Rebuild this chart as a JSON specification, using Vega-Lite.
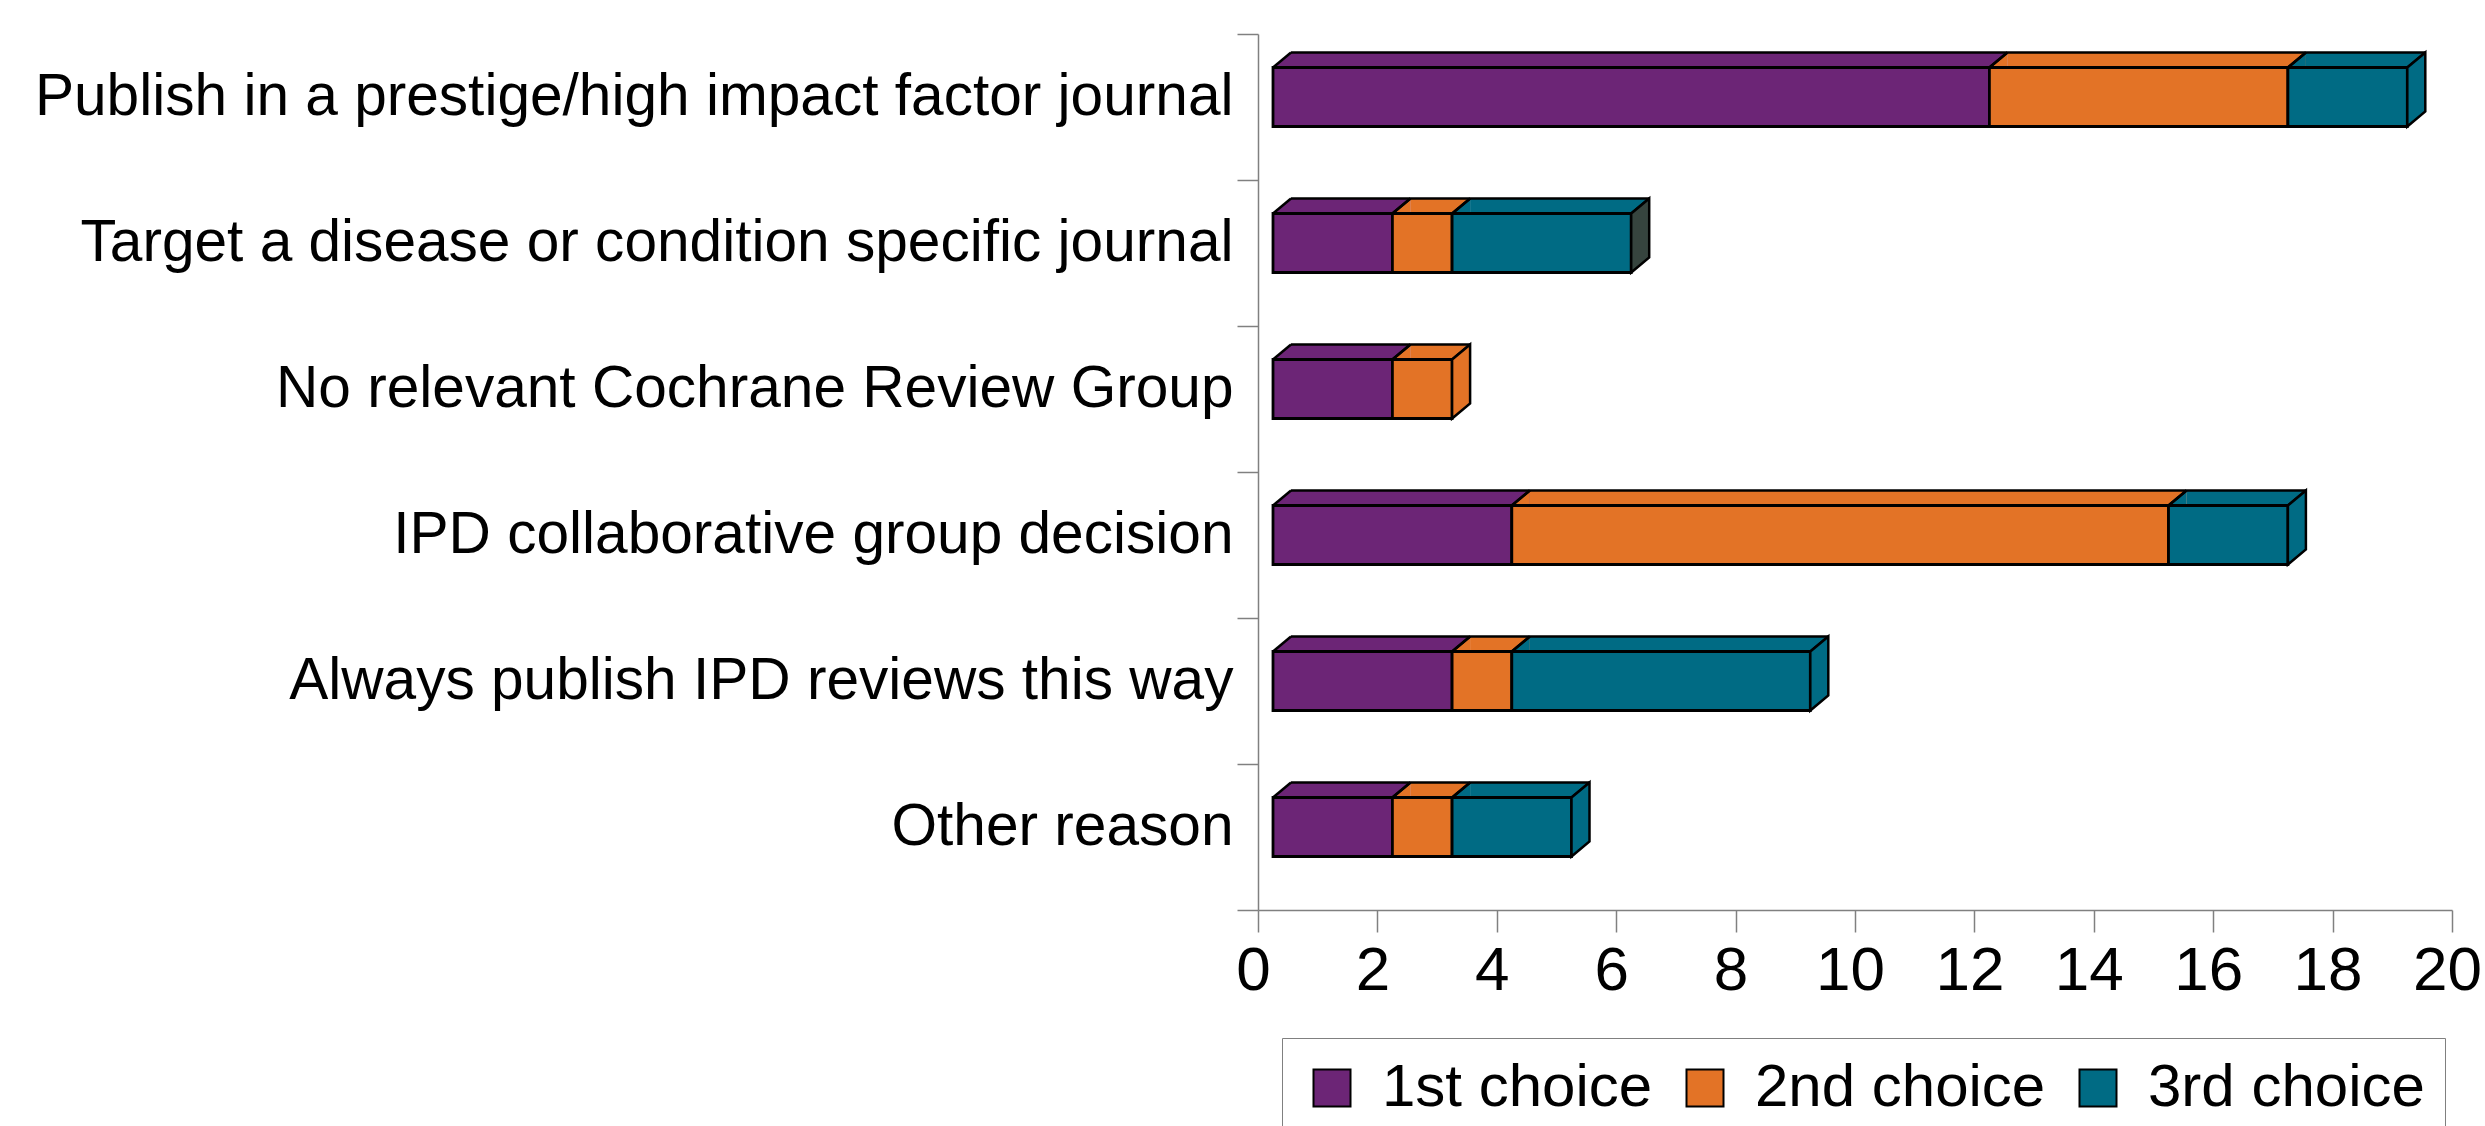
{
  "$schema": "https://vega.github.io/schema/vega-lite/v6.json",
  "width": 1194,
  "height": 876,
  "autosize": {"type": "none"},
  "padding": {"left": 1258, "top": 34, "right": 33, "bottom": 216},
  "background": "white",
  "config": {"view": {"stroke": null}, "font": "Liberation Sans"},
  "data": {
    "values": [
      {"reason": "Publish in a prestige/high impact factor journal", "choice": "1st choice", "order": 1, "count": 12},
      {"reason": "Publish in a prestige/high impact factor journal", "choice": "2nd choice", "order": 2, "count": 5},
      {"reason": "Publish in a prestige/high impact factor journal", "choice": "3rd choice", "order": 3, "count": 2},
      {"reason": "Target a disease or condition specific journal", "choice": "1st choice", "order": 1, "count": 2},
      {"reason": "Target a disease or condition specific journal", "choice": "2nd choice", "order": 2, "count": 1},
      {"reason": "Target a disease or condition specific journal", "choice": "3rd choice", "order": 3, "count": 3},
      {"reason": "No relevant Cochrane Review Group", "choice": "1st choice", "order": 1, "count": 2},
      {"reason": "No relevant Cochrane Review Group", "choice": "2nd choice", "order": 2, "count": 1},
      {"reason": "No relevant Cochrane Review Group", "choice": "3rd choice", "order": 3, "count": 0},
      {"reason": "IPD collaborative group decision", "choice": "1st choice", "order": 1, "count": 4},
      {"reason": "IPD collaborative group decision", "choice": "2nd choice", "order": 2, "count": 11},
      {"reason": "IPD collaborative group decision", "choice": "3rd choice", "order": 3, "count": 2},
      {"reason": "Always publish IPD reviews this way", "choice": "1st choice", "order": 1, "count": 3},
      {"reason": "Always publish IPD reviews this way", "choice": "2nd choice", "order": 2, "count": 1},
      {"reason": "Always publish IPD reviews this way", "choice": "3rd choice", "order": 3, "count": 5},
      {"reason": "Other reason", "choice": "1st choice", "order": 1, "count": 2},
      {"reason": "Other reason", "choice": "2nd choice", "order": 2, "count": 1},
      {"reason": "Other reason", "choice": "3rd choice", "order": 3, "count": 2}
    ]
  },
  "transform": [
    {"filter": "datum.count > 0"},
    {"stack": "count", "groupby": ["reason"], "sort": [{"field": "order", "order": "ascending"}], "as": ["x0", "x1"]},
    {"joinaggregate": [{"op": "max", "field": "x1", "as": "total"}], "groupby": ["reason"]}
  ],
  "encoding": {
    "y": {
      "field": "reason",
      "type": "nominal",
      "title": null,
      "sort": [
        "Publish in a prestige/high impact factor journal",
        "Target a disease or condition specific journal",
        "No relevant Cochrane Review Group",
        "IPD collaborative group decision",
        "Always publish IPD reviews this way",
        "Other reason"
      ],
      "scale": {"paddingInner": 0, "paddingOuter": 0},
      "axis": {
        "title": null,
        "tickBand": "extent",
        "domainColor": "#808080",
        "domainWidth": 1.5,
        "tickColor": "#808080",
        "tickWidth": 1.5,
        "tickSize": 21,
        "labelFont": "Liberation Sans",
        "labelFontSize": 58.6,
        "labelColor": "black",
        "labelPadding": 4,
        "labelLimit": 1300,
        "labelOffset": -11
      }
    }
  },
  "layer": [
    {
      "mark": {"type": "bar", "height": 15, "xOffset": 33, "x2Offset": 33, "yOffset": -47, "strokeWidth": 0},
      "encoding": {
        "x": {"field": "x0", "type": "quantitative", "title": null, "scale": {"domain": [0, 20], "nice": false}},
        "x2": {"field": "x1"},
        "color": {"field": "choice", "type": "nominal", "title": null}
      }
    },
    {
      "mark": {"type": "point", "shape": "M0,0L18,-15L18,0Z", "size": 4, "filled": true, "opacity": 1, "strokeWidth": 0, "xOffset": 15, "yOffset": -39.5},
      "encoding": {
        "x": {"field": "x0", "type": "quantitative", "title": null},
        "color": {"field": "choice", "type": "nominal", "title": null}
      }
    },
    {
      "transform": [{"filter": "datum.x0 == 0"}],
      "mark": {"type": "rule", "color": "black", "strokeWidth": 2.5, "xOffset": 33, "x2Offset": 33, "yOffset": -54.5},
      "encoding": {
        "x": {"field": "x0", "type": "quantitative", "title": null},
        "x2": {"field": "total"}
      }
    },
    {
      "mark": {"type": "point", "shape": "M0,0L18,-15", "size": 4, "filled": false, "opacity": 1, "color": "black", "strokeWidth": 2.5, "xOffset": 15, "yOffset": -39.5},
      "encoding": {
        "x": {"field": "x0", "type": "quantitative", "title": null}
      }
    },
    {
      "mark": {"type": "point", "shape": "M0,0L18,-15", "size": 4, "filled": false, "opacity": 1, "color": "black", "strokeWidth": 2.5, "xOffset": 15, "yOffset": -39.5},
      "encoding": {
        "x": {"field": "x1", "type": "quantitative", "title": null}
      }
    },
    {
      "mark": {"type": "bar", "height": 59, "xOffset": 15, "x2Offset": 15, "yOffset": -10, "stroke": "black", "strokeWidth": 2.8},
      "encoding": {
        "x": {
          "field": "x0",
          "type": "quantitative",
          "title": null,
          "scale": {"domain": [0, 20], "nice": false},
          "axis": {
            "title": null,
            "values": [0, 2, 4, 6, 8, 10, 12, 14, 16, 18, 20],
            "format": "d",
            "grid": false,
            "domainColor": "#808080",
            "domainWidth": 1.5,
            "tickColor": "#808080",
            "tickWidth": 1.5,
            "tickSize": 22,
            "labelFont": "Liberation Sans",
            "labelFontSize": 62,
            "labelColor": "black",
            "labelPadding": 8,
            "labelOffset": -5,
            "labelFlush": false
          }
        },
        "x2": {"field": "x1"},
        "color": {
          "field": "choice",
          "type": "nominal",
          "title": null,
          "scale": {"domain": ["1st choice", "2nd choice", "3rd choice"], "range": ["#6c2576", "#e37326", "#006b84"]},
          "legend": {
            "title": null,
            "orient": "none",
            "legendX": 24,
            "legendY": 1004,
            "direction": "horizontal",
            "columns": 3,
            "symbolType": "square",
            "symbolSize": 1369,
            "symbolStrokeColor": "black",
            "symbolStrokeWidth": 2,
            "symbolOpacity": 1,
            "labelFont": "Liberation Sans",
            "labelFontSize": 60,
            "labelColor": "black",
            "labelOffset": 20,
            "labelLimit": 600,
            "columnPadding": 22,
            "padding": 20,
            "strokeColor": "#808080",
            "fillColor": "white"
          }
        }
      }
    },
    {
      "transform": [{"filter": "datum.x1 == datum.total"}],
      "mark": {"type": "point", "shape": "M0,0L18,-15L18,44L0,59Z", "size": 4, "filled": true, "opacity": 1, "stroke": "black", "strokeWidth": 2.5, "xOffset": 15, "yOffset": -39.5},
      "encoding": {
        "x": {"field": "x1", "type": "quantitative", "title": null},
        "fill": {
          "condition": {"test": "datum.reason == 'Target a disease or condition specific journal'", "value": "#36443e"},
          "field": "choice",
          "type": "nominal",
          "scale": {"domain": ["1st choice", "2nd choice", "3rd choice"], "range": ["#6c2576", "#e37326", "#006b84"]},
          "legend": null
        }
      }
    }
  ]
}
